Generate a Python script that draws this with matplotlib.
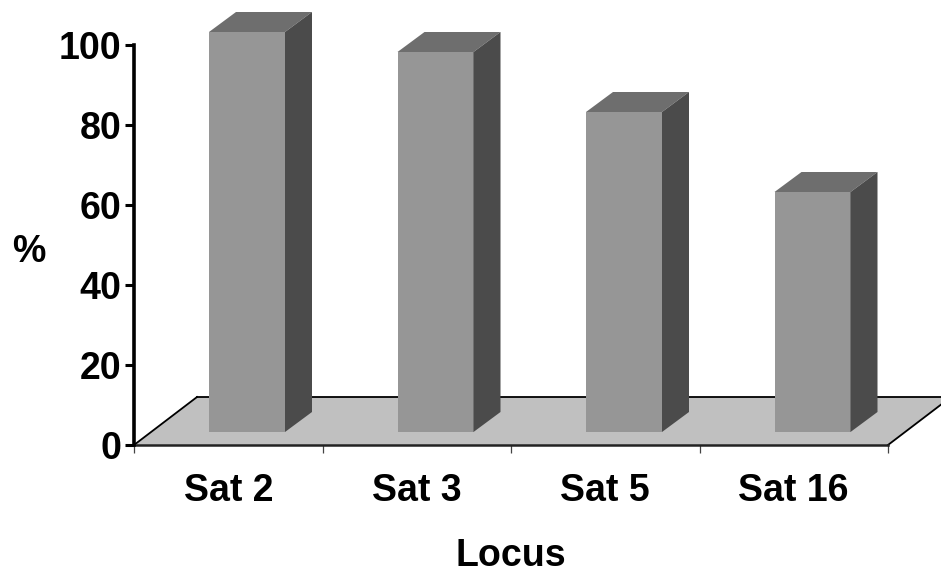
import matplotlib
matplotlib.use("Agg")
import matplotlib.pyplot as plt
from matplotlib.patches import Polygon

plt.rcParams['font.family'] = ['Liberation Sans', 'DejaVu Sans']

# Percentages per locus
categories = ['Sat 2', 'Sat 3', 'Sat 5', 'Sat 16']
values = [100, 95, 80, 60]
y_ticks = [0, 20, 40, 60, 80, 100]

W, H = 941, 569
fig = plt.figure(figsize=(W / 100, H / 100), dpi=100, facecolor='white')
ax = fig.add_axes([134 / W, 1 - 445 / H, 754 / W, 400 / H])
ax.set_xlim(0, len(categories))
ax.set_ylim(0, 100)
ax.set_facecolor('none')

# Pseudo-3D geometry in data units
px_x = len(categories) / 754
px_y = 100 / 400
floor_dx, floor_dy = 63 * px_x, 48 * px_y
bar_dx, bar_dy = 27 * px_x, 20 * px_y
bar_width = 76 * px_x
bar_base = 13 * px_y
bar_shift = 75 * px_x

# Floor plane
n = len(categories)
ax.add_patch(Polygon([(0, 0), (n, 0), (n + floor_dx, floor_dy), (floor_dx, floor_dy)],
                     closed=True, facecolor='#c0c0c0', edgecolor='none',
                     clip_on=False, zorder=1))
for xs, ys, lw in [((0, floor_dx), (0, floor_dy), 1.3),
                   ((floor_dx, n + floor_dx), (floor_dy, floor_dy), 1.3),
                   ((n, n + floor_dx), (0, floor_dy), 1.3)]:
    ax.plot(xs, ys, color='black', lw=lw, clip_on=False, zorder=1.5)

# Bars: front, top and side faces
for i, v in enumerate(values):
    left = i + bar_shift
    right = left + bar_width
    top = bar_base + v
    ax.bar(left, v, width=bar_width, bottom=bar_base, align='edge',
           color='#969696', linewidth=0, clip_on=False, zorder=3)
    ax.add_patch(Polygon([(left, top), (right, top),
                          (right + bar_dx, top + bar_dy), (left + bar_dx, top + bar_dy)],
                         closed=True, facecolor='#6e6e6e', edgecolor='none',
                         clip_on=False, zorder=3))
    ax.add_patch(Polygon([(right, bar_base), (right + bar_dx, bar_base + bar_dy),
                          (right + bar_dx, top + bar_dy), (right, top)],
                         closed=True, facecolor='#4b4b4b', edgecolor='none',
                         clip_on=False, zorder=3))

# Axes
for side in ('top', 'right'):
    ax.spines[side].set_visible(False)
ax.spines['left'].set_linewidth(2.6)
ax.spines['bottom'].set_linewidth(1.8)
ax.spines['left'].set_zorder(4)
ax.spines['bottom'].set_zorder(2)
ax.spines['bottom'].set_color('#222222')

ax.set_yticks(y_ticks)
ax.set_xticks(range(n + 1))
ax.set_xticklabels([])
ax.tick_params(axis='y', length=6.5, width=2.2, labelsize=27, pad=2.5)
ax.tick_params(axis='x', length=5.5, width=0.9, color='#444444')
for lab in ax.get_yticklabels():
    lab.set_fontweight('bold')

# Category names share one baseline under the axis
for i, name in enumerate(categories):
    ax.annotate(name, xy=(i + 0.5, 0), xytext=(0, -56), xycoords=('data', 'data'),
                textcoords='offset pixels', ha='center', va='baseline',
                fontsize=27, fontweight='bold')

fig.text(511 / W, 1 - 566 / H, 'Locus', ha='center', va='baseline',
         fontsize=27, fontweight='bold')
fig.text(29 / W, 1 - 252 / H, '%', ha='center', va='center',
         fontsize=27, fontweight='bold')

fig.savefig('out.png', dpi=100)
